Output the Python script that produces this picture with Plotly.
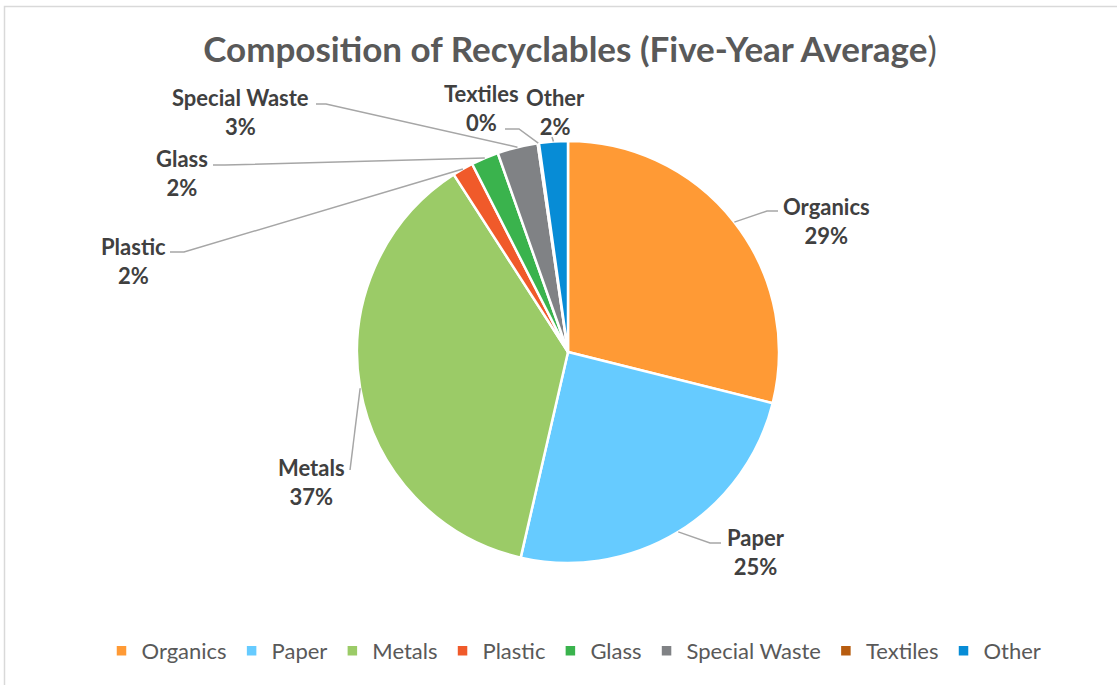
import math
import plotly.graph_objects as go

# ---- data ----
categories = ["Organics", "Paper", "Metals", "Plastic", "Glass", "Special Waste", "Textiles", "Other"]
values = [28.9, 24.7, 37.3, 1.6, 2.1, 3.1, 0.1, 2.2]
colors = ["#FF9A35", "#66CBFF", "#9BCB67", "#F05A2A", "#3AB34D", "#808285", "#B75C0F", "#078CD6"]
title_text = "Composition of Recyclables (Five-Year Average"

# ---- layout config (pixels) ----
W, H = 1117, 685
CX, CY, R = 568, 352, 211
# label centre (x, y of first line), leader elbow point, leader end point
label_cfg = {
    "Organics": dict(tx=826, ty=206, elbow=(767, 211), end=(778, 211)),
    "Paper": dict(tx=756, ty=537, elbow=(710, 543), end=(721, 543)),
    "Metals": dict(tx=311, ty=467, elbow=(350, 470), end=(350, 470)),
    "Plastic": dict(tx=133, ty=246, elbow=(184, 252), end=(170, 252)),
    "Glass": dict(tx=182, ty=158, elbow=(225, 165), end=(213, 165)),
    "Special Waste": dict(tx=240, ty=97, elbow=(326, 104), end=(316, 104)),
    "Textiles": dict(tx=481, ty=93, elbow=(519, 129), end=(505, 129)),
    "Other": dict(tx=555, ty=97, elbow=(552, 137), end=(552, 137)),
}

def px(x):
    return x / W

def py(y):
    return 1 - y / H

fig = go.Figure()
fig.add_trace(go.Pie(
    labels=categories,
    values=values,
    sort=False,
    direction="clockwise",
    rotation=0,
    marker=dict(colors=colors, line=dict(color="white", width=2.5)),
    textinfo="none",
    hoverinfo="label+percent",
    domain=dict(x=[px(CX - R), px(CX + R)], y=[py(CY + R), py(CY - R)]),
))

total = sum(values)
cum = 0.0
annotations = []
shapes = []
for name, v in zip(categories, values):
    mid = (cum + v / 2) / total * 2 * math.pi
    cum += v
    ex = CX + R * math.sin(mid)
    ey = CY - R * math.cos(mid)
    cfg = label_cfg[name]
    pct = round(v / total * 100)
    annotations.append(dict(
        x=px(cfg["tx"]), y=py(cfg["ty"] + 15), xref="paper", yref="paper",
        text=f"<b>{name}</b><br><b>{pct}%</b>", showarrow=False,
        xanchor="center", yanchor="middle",
        font=dict(family="Lato", size=22, color="#404040"), align="center",
    ))
    (bx, by), (ux, uy) = cfg["elbow"], cfg["end"]
    shapes.append(dict(
        type="path", xref="paper", yref="paper",
        path=f"M {px(ex)} {py(ey)} L {px(bx)} {py(by)} L {px(ux)} {py(uy)}",
        line=dict(color="#A6A6A6", width=1.5),
    ))

shapes.append(dict(type="rect", xref="paper", yref="paper",
                   x0=px(4.5), y0=py(6.5), x1=1.02, y1=-0.02,
                   line=dict(color="#D9D9D9", width=1.5), fillcolor="rgba(0,0,0,0)"))

fig.update_layout(
    width=W, height=H,
    margin=dict(l=0, r=0, t=0, b=0),
    paper_bgcolor="white", plot_bgcolor="white",
    title=dict(text=f"<b>{title_text}</b>)", x=px(570), xanchor="center",
               y=py(50), yanchor="middle", yref="paper",
               font=dict(family="Lato", size=35, color="#595959")),
    legend=dict(orientation="h", x=px(574), xanchor="center", y=py(651), yanchor="middle",
                font=dict(family="Lato", size=22, color="#595959"),
                traceorder="normal", itemclick=False),
    annotations=annotations,
    shapes=shapes,
    showlegend=True,
)

fig.write_html("out.html", config={"displayModeBar": False},
               post_script="document.body.style.margin='0';document.body.style.overflow='hidden';")
